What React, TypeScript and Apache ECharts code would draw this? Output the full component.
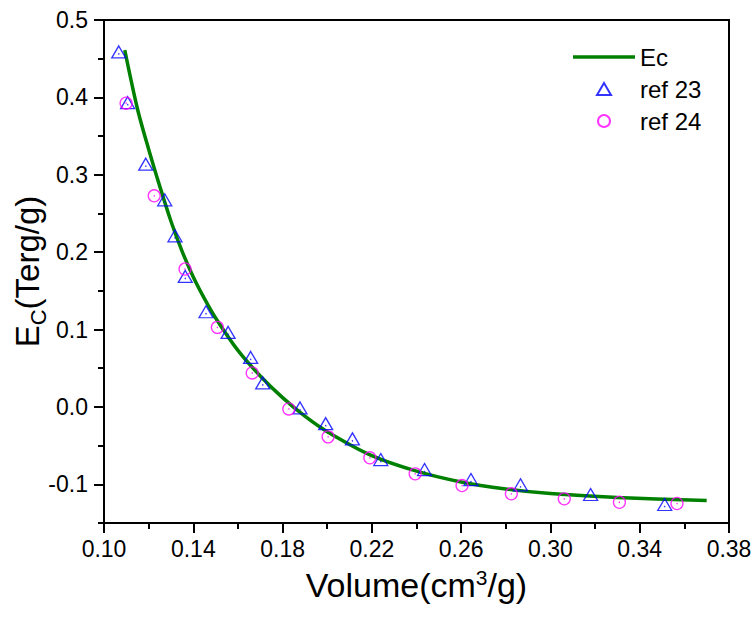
import React, { useEffect, useRef } from "react";
import * as echarts from "echarts";

// Ec curve
const ecX = [0.1093, 0.115, 0.12, 0.125, 0.13, 0.135, 0.14, 0.145, 0.15, 0.16, 0.17, 0.18, 0.19, 0.2, 0.22, 0.24, 0.26, 0.28, 0.3, 0.33, 0.37];
const ecY = [0.461, 0.385, 0.333, 0.285, 0.24, 0.201, 0.168, 0.14, 0.115, 0.073, 0.04, 0.012, -0.012, -0.032, -0.063, -0.083, -0.097, -0.106, -0.112, -0.117, -0.121];

// ref 23 (triangles)
const ref23X = [0.1066, 0.1106, 0.1187, 0.1272, 0.1318, 0.1364, 0.1457, 0.1556, 0.1657, 0.1711, 0.1878, 0.1993, 0.2113, 0.224, 0.2436, 0.2644, 0.2866, 0.318, 0.3512];
const ref23Y = [0.4587, 0.3932, 0.3137, 0.2676, 0.2211, 0.1686, 0.123, 0.0963, 0.064, 0.031, -0.0013, -0.0216, -0.0413, -0.068, -0.081, -0.0939, -0.1007, -0.1132, -0.1261];

// ref 24 (circles)
const ref24X = [0.1099, 0.1225, 0.1363, 0.1508, 0.1664, 0.1828, 0.2004, 0.2191, 0.2394, 0.2604, 0.2825, 0.3062, 0.3309, 0.3567];
const ref24Y = [0.3925, 0.2728, 0.1782, 0.1028, 0.0439, -0.0026, -0.0387, -0.0658, -0.0865, -0.1016, -0.1123, -0.1188, -0.1232, -0.1248];

// ticks
const xLabelTicks = [0.1, 0.14, 0.18, 0.22, 0.26, 0.3, 0.34, 0.38];
const xMinorTicks = [0.12, 0.16, 0.2, 0.24, 0.28, 0.32, 0.36];
const yLabelTicks = [-0.1, 0, 0.1, 0.2, 0.3, 0.4, 0.5];
const yMinorTicks = [-0.15, -0.05, 0.05, 0.15, 0.25, 0.35, 0.45];

const FONT = "Liberation Sans";

const zip = (a: number[], b: number[]) => a.map((v, i) => [v, b[i]]);

export default function App() {
  const ref = useRef<HTMLDivElement>(null);
  useEffect(() => {
    if (!ref.current) return;
    const chart = echarts.init(ref.current, undefined, { renderer: "svg" });
    chart.setOption({
      animation: false,
      backgroundColor: "#fff",
      grid: {
        left: 104, right: 27, top: 20, bottom: 98,
        containLabel: false,
        outerBoundsMode: "none",
        show: true, borderColor: "#000", borderWidth: 2,
      },
      legend: {
        orient: "vertical",
        left: 568,
        top: 40,
        itemWidth: 62,
        itemHeight: 12,
        itemGap: 8,
        symbolKeepAspect: true,
        textStyle: { fontFamily: FONT, fontSize: 24, color: "#000" },
        data: [
          { name: "Ec", icon: "path://M0,0 L62,0 L62,3.5 L0,3.5 Z" },
          { name: "ref 23", icon: "path://M7,0 L14,12 L0,12 Z" },
          { name: "ref 24", icon: "circle" },
        ],
      },
      xAxis: [
        {
          type: "value", min: 0.1, max: 0.38, position: "bottom",
          axisLine: { show: true, onZero: false, lineStyle: { color: "#000", width: 2 } },
          axisTick: { show: true, customValues: xLabelTicks, length: 10, inside: false, lineStyle: { color: "#000", width: 2 } },
          axisLabel: {
            customValues: xLabelTicks,
            formatter: (v: number) => v.toFixed(2),
            fontFamily: FONT, fontSize: 23, color: "#000", margin: 14,
          },
          splitLine: { show: false },
          name: "Volume(cm{sup|3}/g)",
          nameLocation: "middle",
          nameGap: 44,
          nameMoveOverlap: false,
          nameTextStyle: {
            fontFamily: FONT, fontSize: 34, color: "#000",
            rich: {
              sup: { fontFamily: FONT, fontSize: 21, color: "#000", verticalAlign: "top", padding: [0, 0, 14, 0] },
            },
          },
        },
        {
          type: "value", min: 0.1, max: 0.38, position: "bottom",
          axisLine: { show: false, onZero: false },
          axisTick: { show: true, customValues: xMinorTicks, length: 6, lineStyle: { color: "#000", width: 2 } },
          axisLabel: { show: false },
          splitLine: { show: false },
        },
      ],
      yAxis: [
        {
          type: "value", min: -0.15, max: 0.5, position: "left",
          axisLine: { show: true, onZero: false, lineStyle: { color: "#000", width: 2 } },
          axisTick: { show: true, customValues: yLabelTicks, length: 10, lineStyle: { color: "#000", width: 2 } },
          axisLabel: {
            customValues: yLabelTicks,
            formatter: (v: number) => v.toFixed(1),
            fontFamily: FONT, fontSize: 23, color: "#000", margin: 16,
          },
          splitLine: { show: false },
          name: "{n|E}{sub|C}{n|(Terg/g)}",
          nameLocation: "middle",
          nameGap: 59,
          nameMoveOverlap: false,
          nameTextStyle: {
            fontFamily: FONT, fontSize: 33, color: "#000",
            rich: {
              n: { fontFamily: FONT, fontSize: 33, color: "#000", lineHeight: 34, verticalAlign: "top" },
              sub: { fontFamily: FONT, fontSize: 22, color: "#000", lineHeight: 22, verticalAlign: "top", padding: [16, 0, 0, 0] },
            },
          },
        },
        {
          type: "value", min: -0.15, max: 0.5, position: "left",
          axisLine: { show: false, onZero: false },
          axisTick: { show: true, customValues: yMinorTicks, length: 6, lineStyle: { color: "#000", width: 2 } },
          axisLabel: { show: false },
          splitLine: { show: false },
        },
      ],
      series: [
        {
          name: "Ec", type: "line", xAxisIndex: 0, yAxisIndex: 0,
          data: zip(ecX, ecY), smooth: 0.3, symbol: "none",
          lineStyle: { color: "#008000", width: 3.5 },
          itemStyle: { color: "#008000" },
          z: 2,
        },
        {
          name: "ref 23", type: "scatter", xAxisIndex: 0, yAxisIndex: 0,
          data: zip(ref23X, ref23Y), symbol: "triangle", symbolSize: [14, 12],
          itemStyle: { color: "rgba(255,255,255,0)", borderColor: "#0000ff", borderWidth: 1.3 },
          z: 3,
        },
        {
          name: "ref 24", type: "scatter", xAxisIndex: 0, yAxisIndex: 0,
          data: zip(ref24X, ref24Y), symbol: "circle", symbolSize: 12,
          itemStyle: { color: "rgba(255,255,255,0)", borderColor: "#ff00ff", borderWidth: 1.3 },
          z: 3,
        },
        {
          name: "ref23dot", type: "scatter", xAxisIndex: 0, yAxisIndex: 0,
          data: zip(ref23X, ref23Y), symbol: "circle", symbolSize: 1.5, symbolOffset: [0, 2],
          itemStyle: { color: "#0000ff" }, silent: true, z: 4,
        },
        {
          name: "ref24dot", type: "scatter", xAxisIndex: 0, yAxisIndex: 0,
          data: zip(ref24X, ref24Y), symbol: "circle", symbolSize: 1.5,
          itemStyle: { color: "#ff00ff" }, silent: true, z: 4,
        },
      ],
    });
    return () => chart.dispose();
  }, []);
  return <div ref={ref} style={{ width: 756, height: 621, position: "absolute", left: 0, top: 0 }} />;
}
